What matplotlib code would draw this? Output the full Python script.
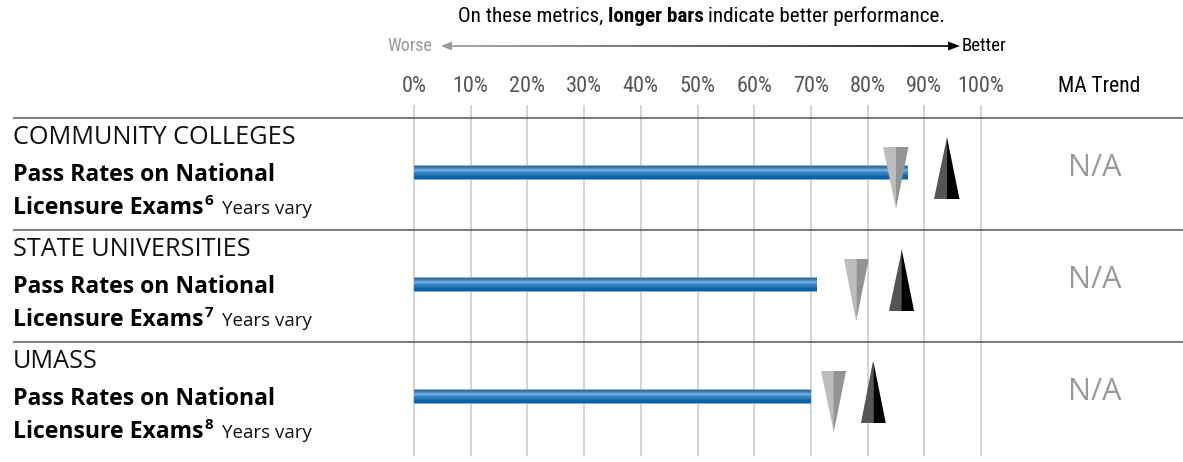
import numpy as np
import matplotlib
matplotlib.use("Agg")
import matplotlib.pyplot as plt
from matplotlib import font_manager
from matplotlib.patches import Polygon
from matplotlib.collections import LineCollection
from matplotlib.colors import LinearSegmentedColormap

# pass rates on national licensure exams, by segment
segments = ['COMMUNITY COLLEGES', 'STATE UNIVERSITIES', 'UMASS']
footnotes = ['6', '7', '8']
pass_rate = [87, 71, 70]
peer_low = [85, 78, 74]     # grey downward marker
peer_high = [94, 86, 81]    # black upward marker
ma_trend = ['N/A', 'N/A', 'N/A']
ticks = [0, 10, 20, 30, 40, 50, 60, 70, 80, 90, 100]

# fonts
names = {f.name for f in font_manager.fontManager.ttflist}
body = next((n for n in ['Open Sans', 'Noto Sans', 'DejaVu Sans'] if n in names), 'DejaVu Sans')
narrow = next((n for n in ['Roboto Condensed', 'Liberation Sans Narrow', 'Open Sans Condensed']
               if n in names), body)

W, H = 1183, 462
X0, PX = 414, 5.67          # pixel of 0% and pixels per percentage point

fig = plt.figure(figsize=(W / 100, H / 100), dpi=100)
ax = fig.add_axes([0, 0, 1, 1])
ax.set_axis_off()


def px(x):
    return (x - X0) / PX


ax.set_xlim(px(0), px(W))
ax.set_ylim(H, 0)
fig.canvas.draw()
r = fig.canvas.get_renderer()


def after(t, gap=0):
    bb = t.get_window_extent(r)
    return ax.transData.inverted().transform((bb.x1, 0))[0] + gap / PX


# header
t1 = ax.text(px(458), 16, 'On these metrics, ', ha='left', va='center', fontsize=15.2, family=narrow)
t2 = ax.text(after(t1), 16, 'longer bars', ha='left', va='center', fontsize=15.2,
             family=narrow, weight='bold')
ax.text(after(t2, 4), 16, 'indicate better performance.', ha='left', va='center',
        fontsize=15.2, family=narrow)

# worse / better arrow
ay = 46
ax.text(px(432), ay, 'Worse', ha='right', va='center', fontsize=13, family=narrow, color='#999999')
ax.text(px(962), ay, 'Better', ha='left', va='center', fontsize=13.5, family=narrow, color='black')
xs = np.linspace(px(446), px(950), 120)
segs = [[(xs[i], ay), (xs[i + 1], ay)] for i in range(len(xs) - 1)]
grey = np.linspace(0.6, 0.0, len(segs))
ax.add_collection(LineCollection(segs, colors=[(g, g, g) for g in grey], linewidths=1.2))
ax.add_patch(Polygon([(px(441), ay), (px(452), ay - 4.5), (px(452), ay + 4.5)],
                     closed=True, color='#999999', lw=0))
ax.add_patch(Polygon([(px(960), ay), (px(948), ay - 4.5), (px(948), ay + 4.5)],
                     closed=True, color='black', lw=0))

# tick labels and column header
for v in ticks:
    ax.text(v, 87, f'{v}%', ha='center', va='center', fontsize=16, family=narrow, color='#555555')
ax.text(120.8, 86, 'MA Trend', ha='center', va='center', fontsize=15.5, family=narrow, color='black')

# gridlines
ax.vlines(ticks, 105, 456, colors='#cccccc', linewidth=1.2, zorder=1)

# bar gradient
bar_cmap = LinearSegmentedColormap.from_list(
    'bar', [(0, '#d8e6f2'), (0.08, '#1a5f9e'), (0.35, '#7fb0dc'), (0.5, '#3d86c2'),
            (0.8, '#0a64a8'), (0.93, '#005a9e'), (1, '#cfe0ee')])
grad = np.linspace(0, 1, 64).reshape(-1, 1)

row_top = [118, 230, 342]
for i, seg in enumerate(segments):
    top = row_top[i]
    ax.hlines(top, px(13), px(W), colors='#555555', linewidth=1.1, zorder=2)

    # labels
    ax.text(px(13), top + 19, seg, ha='left', va='center', fontsize=18.2, family=body, color='#111111')
    ax.text(px(13), top + 57, 'Pass Rates on National', ha='left', va='center',
            fontsize=16.6, family=body, weight='bold')
    tl = ax.text(px(13), top + 96, 'Licensure Exams', ha='left', va='baseline',
                 fontsize=16.6, family=body, weight='bold')
    tf = ax.text(after(tl, 1), top + 87, footnotes[i], ha='left', va='baseline',
                 fontsize=11, family=body, weight='bold')
    ax.text(after(tf, 9), top + 96, 'Years vary', ha='left', va='baseline',
            fontsize=13.5, family=body, color='#111111')

    # bar
    yc = top + 55
    ax.imshow(grad, cmap=bar_cmap, extent=[0, pass_rate[i], yc + 7.5, yc - 7.5],
              aspect='auto', interpolation='bilinear', zorder=3)

    # peer markers
    hw = 12.5 / PX
    x = peer_low[i]
    ax.add_patch(Polygon([(x - hw, top + 29), (x, top + 29), (x, top + 91)],
                         closed=True, color='#bdbdbd', lw=0, zorder=4))
    ax.add_patch(Polygon([(x, top + 29), (x + hw, top + 29), (x, top + 91)],
                         closed=True, color='#939393', lw=0, zorder=4))
    x = peer_high[i]
    ax.add_patch(Polygon([(x - hw, top + 81), (x, top + 81), (x, top + 19)],
                         closed=True, color='#555555', lw=0, zorder=4))
    ax.add_patch(Polygon([(x, top + 81), (x + hw, top + 81), (x, top + 19)],
                         closed=True, color='#000000', lw=0, zorder=4))

    ax.text(120.0, top + 50, ma_trend[i], ha='center', va='center', fontsize=22,
            family=body, color='#999999')

ax.set_xlim(px(0), px(W))
ax.set_ylim(H, 0)
fig.savefig('out.png', dpi=100)
